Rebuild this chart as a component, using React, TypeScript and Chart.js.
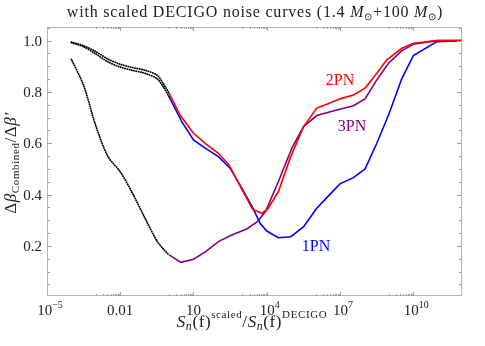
import React, { useEffect, useRef } from "react";
import { Chart, registerables } from "chart.js";
Chart.register(...registerables);

// log10 of S_n(f)^scaled / S_n(f)^DECIGO
const dotLogX = [-4, -3.5, -3, -2.5, -2, -1.5, -1, -0.5, -0.25, 0];
const dot2PN = [0.994, 0.98, 0.957, 0.928, 0.908, 0.895, 0.885, 0.866, 0.835, 0.795];
const dot1PN = [0.992, 0.976, 0.948, 0.917, 0.897, 0.884, 0.873, 0.852, 0.822, 0.782];
const dot3PN = [0.927, 0.825, 0.668, 0.548, 0.489, 0.406, 0.311, 0.22, 0.19, 0.165];

const pn2LogX = [0, 0.45, 1, 1.48, 2.02, 2.45, 2.9, 3.42, 3.8, 4.05, 4.48, 4.96, 5.51, 6.05, 6.46, 7, 7.55, 8.03, 8.51, 8.92, 9.54, 10.01, 10.97, 12];
const pn2Y = [0.795, 0.71, 0.639, 0.6, 0.561, 0.516, 0.435, 0.343, 0.327, 0.345, 0.412, 0.542, 0.665, 0.737, 0.752, 0.773, 0.788, 0.815, 0.873, 0.925, 0.97, 0.99, 1.0, 1.0];

const pn3LogX = [0, 0.49, 1, 1.5, 2.02, 2.57, 3.18, 3.62, 3.95, 4.48, 5.03, 5.51, 6.05, 6.6, 7.55, 8.03, 8.51, 8.99, 9.54, 10.01, 10.97, 12];
const pn3Y = [0.165, 0.136, 0.148, 0.178, 0.217, 0.243, 0.266, 0.295, 0.334, 0.451, 0.581, 0.665, 0.708, 0.723, 0.746, 0.773, 0.847, 0.912, 0.961, 0.986, 1.0, 1.0];

const pn1LogX = [0, 0.52, 1, 1.48, 2.02, 2.5, 2.98, 3.42, 3.73, 4, 4.48, 4.99, 5.51, 6.05, 6.5, 7, 7.55, 8.03, 8.51, 8.99, 9.54, 10.01, 10.97, 12];
const pn1Y = [0.782, 0.684, 0.613, 0.581, 0.548, 0.503, 0.425, 0.35, 0.288, 0.258, 0.232, 0.236, 0.275, 0.347, 0.392, 0.442, 0.466, 0.5, 0.6, 0.71, 0.853, 0.942, 0.996, 1.0];

const xTickValues = [1e-5, 1e-2, 1e1, 1e4, 1e7, 1e10];
const xTickBase = ["10", "0.01", "10", "10", "10", "10"];
const xTickExp = ["\u22125", "", "", "4", "7", "10"];
const yTickValues = [0.2, 0.4, 0.6, 0.8, 1.0];
const yTickLabels = ["0.2", "0.4", "0.6", "0.8", "1.0"];

const SERIF = '"Liberation Serif", "Times New Roman", serif';

type Seg = { t: string; size: number; italic?: boolean; dy?: number };

function drawRich(ctx: CanvasRenderingContext2D, segs: Seg[], x: number, y: number, align: string, spacing = 0) {
  (ctx as any).letterSpacing = spacing + "px";
  let w = 0;
  for (const s of segs) {
    ctx.font = `${s.italic ? "italic " : ""}${s.size}px ${SERIF}`;
    w += ctx.measureText(s.t).width;
  }
  let sx = align === "center" ? x - w / 2 : align === "right" ? x - w : x;
  ctx.textAlign = "left";
  ctx.textBaseline = "alphabetic";
  for (const s of segs) {
    ctx.font = `${s.italic ? "italic " : ""}${s.size}px ${SERIF}`;
    ctx.fillText(s.t, sx, y + (s.dy || 0));
    sx += ctx.measureText(s.t).width;
  }
  (ctx as any).letterSpacing = "0px";
}

const toPts = (lx: number[], ys: number[]) => lx.map((v, i) => ({ x: Math.pow(10, v), y: ys[i] }));

const decor = {
  id: "decor",
  afterDraw(chart: any) {
    const ctx: CanvasRenderingContext2D = chart.ctx;
    const a = chart.chartArea;
    const xs = chart.scales.x;
    const ys = chart.scales.y;
    ctx.save();
    // frame
    ctx.strokeStyle = "#b4b4b4";
    ctx.lineWidth = 1;
    ctx.strokeRect(Math.round(a.left) + 0.5, Math.round(a.top) + 0.5, Math.round(a.right - a.left) - 1, Math.round(a.bottom - a.top) - 1);
    // y ticks
    ctx.strokeStyle = "#a0a0a0";
    ctx.beginPath();
    for (let k = 1; k <= 21; k++) {
      const v = k * 0.05;
      if (v > ys.max) break;
      const py = Math.round(ys.getPixelForValue(v)) + 0.5;
      const major = k % 4 === 0;
      const len = major ? 5 : 3;
      ctx.moveTo(a.left, py);
      ctx.lineTo(a.left + len, py);
      ctx.moveTo(a.right, py);
      ctx.lineTo(a.right - len, py);
    }
    // x ticks (major + minor in preceding decade)
    for (const tv of xTickValues) {
      const e = Math.round(Math.log10(tv));
      for (let k = 1; k <= 10; k++) {
        const v = k * Math.pow(10, e - 1);
        if (v < xs.min || v > xs.max) continue;
        const px = Math.round(xs.getPixelForValue(v)) + 0.5;
        const len = k === 10 ? 4 : 2;
        ctx.moveTo(px, a.bottom);
        ctx.lineTo(px, a.bottom - len);
        ctx.moveTo(px, a.top);
        ctx.lineTo(px, a.top + len);
      }
    }
    ctx.stroke();
    // tick labels
    ctx.fillStyle = "#222";
    yTickValues.forEach((v, i) => {
      const py = ys.getPixelForValue(v);
      drawRich(ctx, [{ t: yTickLabels[i], size: 15 }], 42, py + 5, "right");
    });
    xTickValues.forEach((v, i) => {
      const px = xs.getPixelForValue(v);
      const segs: Seg[] = [{ t: xTickBase[i], size: 15 }];
      if (xTickExp[i]) segs.push({ t: xTickExp[i], size: 10, dy: -7 });
      drawRich(ctx, segs, px + (xTickExp[i] ? 3 : 0), 315, "center");
    });
    // title
    drawRich(
      ctx,
      [
        { t: "with scaled DECIGO noise curves (1.4 ", size: 16 },
        { t: "M", size: 16, italic: true },
        { t: "\u2299", size: 10, dy: 3 },
        { t: "+100 ", size: 16 },
        { t: "M", size: 16, italic: true },
        { t: "\u2299", size: 10, dy: 3 },
        { t: ")", size: 16 },
      ],
      255,
      17,
      "center",
      0.8
    );
    // x title
    drawRich(
      ctx,
      [
        { t: "S", size: 17, italic: true },
        { t: "n", size: 12, italic: true, dy: 3 },
        { t: "(f)", size: 17 },
        { t: "scaled", size: 11, dy: -9 },
        { t: "/", size: 17 },
        { t: "S", size: 17, italic: true },
        { t: "n", size: 12, italic: true, dy: 3 },
        { t: "(f)", size: 17 },
        { t: "DECIGO", size: 11, dy: -9 },
      ],
      252,
      327,
      "center",
      0.6
    );
    // y title
    ctx.save();
    ctx.translate(16, 163);
    ctx.rotate(-Math.PI / 2);
    drawRich(
      ctx,
      [
        { t: "\u0394", size: 17 },
        { t: "\u03b2", size: 17, italic: true },
        { t: "Combined", size: 11, dy: 3 },
        { t: "/", size: 17 },
        { t: "\u0394", size: 17 },
        { t: "\u03b2\u2032", size: 17, italic: true },
      ],
      0,
      0,
      "center",
      0.6
    );
    ctx.restore();
    // curve labels
    ctx.fillStyle = "#ff0000";
    drawRich(ctx, [{ t: "2PN", size: 16 }], 340, 85, "center");
    ctx.fillStyle = "#800080";
    drawRich(ctx, [{ t: "3PN", size: 16 }], 352, 131, "center");
    ctx.fillStyle = "#0000ff";
    drawRich(ctx, [{ t: "1PN", size: 16 }], 316, 251, "center");
    ctx.restore();
  },
};

export default function App() {
  const ref = useRef<HTMLCanvasElement>(null);
  useEffect(() => {
    if (!ref.current) return;
    const dotted = (data: any) => ({
      data,
      borderColor: "#000",
      borderWidth: 1.8,
      borderDash: [0.3, 2.0],
      borderCapStyle: "round",
      pointRadius: 0,
      tension: 0.3,
      fill: false,
    });
    const solid = (data: any, color: string) => ({
      data,
      borderColor: color,
      borderWidth: 1.6,
      pointRadius: 0,
      tension: 0,
      fill: false,
    });
    const chart = new Chart(ref.current, {
      type: "line",
      data: {
        datasets: [
          solid(toPts(pn2LogX, pn2Y), "#ff0000") as any,
          solid(toPts(pn1LogX, pn1Y), "#0000ff") as any,
          solid(toPts(pn3LogX, pn3Y), "#800080") as any,
          dotted(toPts(dotLogX, dot2PN)) as any,
          dotted(toPts(dotLogX, dot1PN)) as any,
          dotted(toPts(dotLogX, dot3PN)) as any,
        ],
      },
      options: {
        animation: false,
        responsive: false,
        events: [],
        layout: { padding: { left: 47, top: 27, right: 23, bottom: 50 } },
        plugins: { legend: { display: false }, tooltip: { enabled: false }, title: { display: false } },
        scales: {
          x: { type: "logarithmic", min: 1e-5, max: 1e12, display: false },
          y: { type: "linear", min: 0.005, max: 1.053, display: false },
        },
      },
      plugins: [decor],
    });
    return () => chart.destroy();
  }, []);
  return (
    <div style={{ position: "fixed", left: 0, top: 0, width: 485, height: 346, background: "#fff" }}>
      <canvas ref={ref} width={485} height={346} style={{ width: 485, height: 346 }} />
    </div>
  );
}
